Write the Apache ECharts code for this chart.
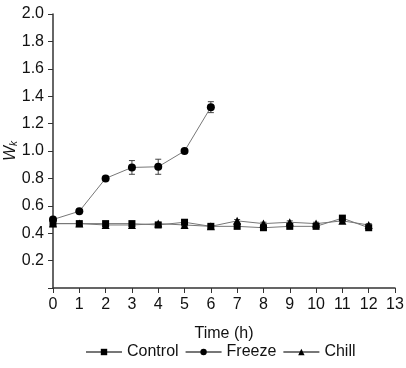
<!DOCTYPE html>
<html><head><meta charset="utf-8">
<script src="https://cdn.jsdelivr.net/npm/echarts@6/dist/echarts.min.js"></script>
<style>html,body{margin:0;padding:0;background:#fff}#c{width:406px;height:368px}</style>
</head><body><div id="c"></div>
<script>
var hours = [0,1,2,3,4,5,6,7,8,9,10,11,12];
var controlVals = [0.47,0.47,0.47,0.47,0.46,0.48,0.45,0.45,0.44,0.45,0.45,0.51,0.44];
var controlErr  = [0.01,0.01,0.01,0.01,0.01,0.01,0.01,0.01,0.01,0.01,0.01,0.01,0.01];
var freezeVals  = [0.50,0.56,0.80,0.88,0.885,1.00,1.32];
var freezeErr   = [0.01,0.01,0.01,0.05,0.055,0.01,0.04];
var chillVals   = [0.47,0.47,0.46,0.46,0.47,0.46,0.45,0.49,0.47,0.48,0.47,0.49,0.46];
var chillErr    = [0.01,0.01,0.01,0.01,0.01,0.01,0.01,0.01,0.01,0.01,0.01,0.01,0.01];
var yTicks = [0,0.2,0.4,0.6,0.8,1.0,1.2,1.4,1.6,1.8,2.0];

function pairs(v){ return v.map(function(y,i){return [hours[i],y];}); }
function errData(v,e){ return v.map(function(y,i){return [hours[i],y-e[i],y+e[i]];}); }
function errSeries(v,e){
  return {type:'custom', silent:true, z:1, data:errData(v,e),
    renderItem:function(p,api){
      var x=api.value(0), lo=api.coord([x,api.value(1)]), hi=api.coord([x,api.value(2)]);
      var w=3;
      return {type:'group',children:[
        {type:'line',shape:{x1:lo[0],y1:lo[1],x2:hi[0],y2:hi[1]},style:{stroke:'#444',lineWidth:1}},
        {type:'line',shape:{x1:lo[0]-w,y1:lo[1],x2:lo[0]+w,y2:lo[1]},style:{stroke:'#444',lineWidth:1}},
        {type:'line',shape:{x1:hi[0]-w,y1:hi[1],x2:hi[0]+w,y2:hi[1]},style:{stroke:'#444',lineWidth:1}}
      ]};
    }};
}
var chart = echarts.init(document.getElementById('c'));
var font = 'Liberation Sans, Arial, sans-serif';
function lineSeries(name,v,sym,size){
  return {name:name,type:'line',data:pairs(v),symbol:sym,symbolSize:size,z:3,
    itemStyle:{color:'#000'},lineStyle:{color:'#777',width:1},emphasis:{disabled:true}};
}
chart.setOption({
  animation:false,
  textStyle:{fontFamily:font},
  grid:{left:53,right:11,top:14,bottom:80,containLabel:false,outerBoundsMode:'none'},
  legend:{bottom:3,left:80,itemWidth:36,itemHeight:8,itemGap:6,
    textStyle:{fontSize:16,color:'#111',fontFamily:font},
    data:['Control','Freeze','Chill']},
  xAxis:{type:'value',min:0,max:13,interval:1,
    name:'Time (h)',nameLocation:'middle',nameGap:38,
    nameTextStyle:{fontSize:16,color:'#111',fontFamily:font},
    axisLine:{lineStyle:{color:'#333',width:1.5}},
    axisTick:{length:5,lineStyle:{color:'#333'}},
    axisLabel:{fontSize:16,color:'#111',margin:9},
    splitLine:{show:false}},
  yAxis:{type:'value',min:0,max:2,interval:0.2,
    name:'{i|W}{s|k}',nameLocation:'middle',nameGap:34,nameRotate:90,nameMoveOverlap:false,
    nameTextStyle:{rich:{i:{fontSize:16,fontStyle:'italic',color:'#111',fontFamily:font},
      s:{fontSize:10,fontStyle:'italic',color:'#111',fontFamily:font,verticalAlign:'bottom',padding:[6,0,0,0]}}},
    axisLine:{show:true,lineStyle:{color:'#333',width:1.5}},
    axisTick:{show:true,length:5,lineStyle:{color:'#333'}},
    axisLabel:{fontSize:16,color:'#111',margin:9,formatter:function(v){return v===0?'':v.toFixed(1);}},
    splitLine:{show:false}},
  series:[
    errSeries(controlVals,controlErr),
    errSeries(freezeVals,freezeErr),
    errSeries(chillVals,chillErr),
    lineSeries('Control',controlVals,'rect',7),
    lineSeries('Freeze',freezeVals,'circle',8),
    lineSeries('Chill',chillVals,'triangle',8)
  ]
});
</script></body></html>
